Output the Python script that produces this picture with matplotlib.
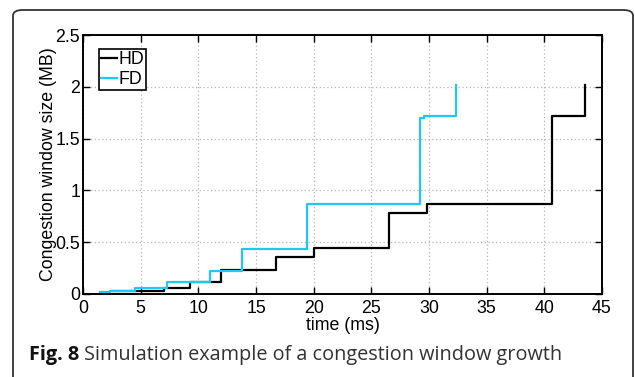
import matplotlib
matplotlib.use("Agg")
import matplotlib.pyplot as plt
from matplotlib.patches import FancyBboxPatch

# Data
hd_t = [2.5, 7.0, 9.3, 12.0, 16.7, 20.0, 26.5, 29.8, 40.7, 43.5]
hd_w = [0.03, 0.06, 0.12, 0.23, 0.36, 0.44, 0.78, 0.87, 1.72, 2.02]
fd_t = [1.5, 2.3, 4.5, 7.25, 11.0, 13.75, 19.45, 29.2, 29.6, 32.3]
fd_w = [0.02, 0.03, 0.06, 0.115, 0.225, 0.435, 0.865, 1.695, 1.715, 2.02]
xticks = [0, 5, 10, 15, 20, 25, 30, 35, 40, 45]
yticks = [0, 0.5, 1, 1.5, 2, 2.5]
ytick_labels = ["0", "0.5", "1", "1.5", "2", "2.5"]

W, H = 635, 377
fig = plt.figure(figsize=(W / 100, H / 100), dpi=100)
fig.patch.set_facecolor("white")

# card frame
card = FancyBboxPatch((13 / W, -0.2), (633 - 13) / W, 1.2 - 10 / H,
                      boxstyle="round,pad=0,rounding_size=0.015",
                      transform=fig.transFigure, fill=False,
                      edgecolor="#333333", linewidth=1.3, clip_on=False)
fig.patches.append(card)

ax = fig.add_axes([83 / W, 1 - 294 / H, (602 - 83) / W, (294 - 35) / H])
FS = 12.8
tick_font = {"family": ["Liberation Sans", "DejaVu Sans"], "size": FS}

ax.plot(hd_t, hd_w, drawstyle="steps-post", color="black", lw=1.6, label="HD")
ax.plot(fd_t, fd_w, drawstyle="steps-post", color="#1ec8f5", lw=1.6, label="FD")

ax.set_xlim(0, 45)
ax.set_ylim(0, 2.5)
ax.set_xticks(xticks)
ax.set_yticks(yticks)
ax.set_xticklabels([str(v) for v in xticks], fontdict=tick_font)
ax.set_yticklabels(ytick_labels, fontdict=tick_font)
ax.tick_params(direction="in", length=5, width=1.0, top=True, right=True,
               pad=2, colors="black")
ax.tick_params(axis="x", pad=4)
for s in ax.spines.values():
    s.set_linewidth(1.4)
ax.grid(True, color="#b5b5b5", linestyle=(0, (1, 2)), linewidth=0.9)
ax.set_axisbelow(True)

ax.set_xlabel("time (ms)", fontdict=tick_font, labelpad=0)
ax.set_ylabel("Congestion window size (MB)", fontdict=tick_font, labelpad=-1)

leg = ax.legend(loc="upper left", bbox_to_anchor=(0.031, 0.946),
                prop={"family": ["Liberation Sans"], "size": FS},
                handlelength=0.9, handletextpad=0.05, borderpad=0.12,
                labelspacing=0.15, borderaxespad=0, fancybox=False,
                framealpha=1)
leg.get_frame().set_edgecolor("black")
leg.get_frame().set_linewidth(1.2)

t1 = fig.text(29 / W, 1 - 355 / H, "Fig. 8", fontsize=14.3, fontweight="bold",
              family=["Open Sans", "DejaVu Sans"], color="#111111", va="center")
fig.canvas.draw()
bb = t1.get_window_extent(renderer=fig.canvas.get_renderer())
fig.text((bb.x1 + 5) / W, 1 - 355 / H,
         "Simulation example of a congestion window growth",
         fontsize=14.3, family=["Open Sans", "DejaVu Sans"], color="#333333",
         va="center")

fig.savefig("out.png", dpi=100, facecolor="white")
